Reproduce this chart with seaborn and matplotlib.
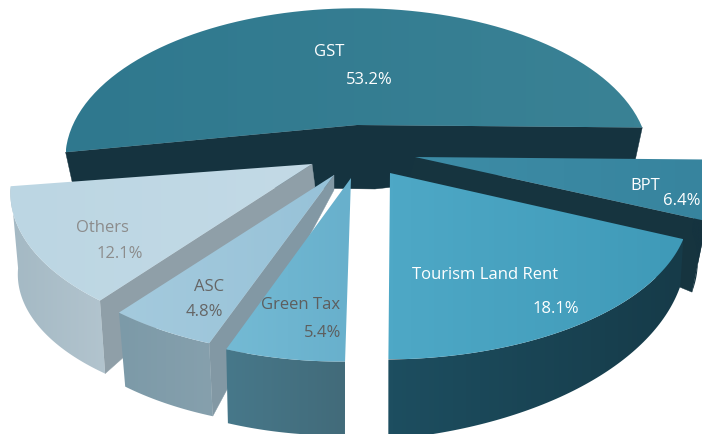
import numpy as np
import matplotlib.pyplot as plt
import seaborn as sns
from matplotlib.patches import Polygon

sns.set_style('white')
plt.rcParams['font.family'] = ['Open Sans', 'DejaVu Sans']

# data, counter-clockwise from the right corner of GST
names  = ['GST', 'Others', 'ASC', 'Green Tax', 'Tourism Land Rent', 'BPT']
shares = [53.2, 12.1, 4.8, 5.4, 18.1, 6.4]
pct_labels = ['53.2%', '12.1%', '4.8%', '5.4%', '18.1%', '6.4%']

START_ANGLE = -1
RX, RY, PERSP = 290, 143, 0.225

# layout per slice (pixels)
centers = [(357, 125), (308, 159), (327, 171), (340, 177), (383, 175), (415, 157)]
tips    = [(357, 125), (312, 164), (334, 175), (351, 178), (390, 173), (415, 157)]
tip_bottom = [(375, 189), (315, 187), (334, 190), (351, 190), (390, 190), (410, 176)]
radius  = [0.98, 1.0, 1.0, 0.966, 1.03, 1.0]
depth_a = [33, 82, 74, 74, 80, 71]     # side height at angle start
depth_b = [33, 73, 73, 74, 47, 71]     # side height at angle end
shrink  = [0.975, 0.975, 0.97, 0.985, 0.99, 0.95]
walls   = ['both', 'end', 'end', None, None, 'start']   # which radial walls show

top_a  = ['#2F788E', '#BCD6E3', '#A4CADD', '#74BAD4', '#4EA8C6', '#3D8CA6']
top_b  = ['#3A8295', '#C3DAE6', '#97C2D8', '#68B0CC', '#3F9AB8', '#37849E']
face_a = ['#15333F', '#A4B9C4', '#7C9AA8', '#47788A', '#1D4E60', '#15333F']
face_b = ['#15333F', '#B2C4CE', '#86A0AD', '#426B7A', '#163B49', '#15333F']
wall   = ['#15333F', '#8F9FA8', '#8298A4', '#47788A', '#163B49', '#16343F']

label_xy = [(329, 52), (102, 228), (209, 287), (301, 305), (485, 275), (645, 186)]
pct_xy   = [(369, 80), (120, 254), (204, 312), (323, 333), (556, 309), (682, 201)]
text_col = ['white', '#8C8C8C', '#666666', '#5E5E5E', 'white', 'white']

z = [1]


def next_z():
    z[0] += 1
    return z[0]


def project(center, angle, scale=1.0):
    t = np.radians(angle)
    w = 1 + PERSP * np.sin(t)
    return (center[0] + scale * RX * np.cos(t) / w,
            center[1] - RY * np.sin(t) / w)


def fill_gradient(ax, pts, c0, c1):
    # horizontal colour blend clipped to a polygon
    pts = np.asarray(pts)
    cmap = sns.blend_palette([c0, c1], n_colors=64, as_cmap=True)
    poly = Polygon(pts, closed=True, fc='none', ec='none', transform=ax.transData)
    ax.add_patch(poly)
    im = ax.imshow(np.linspace(0, 1, 64)[None, :], cmap=cmap, aspect='auto', zorder=next_z(),
                   extent=(pts[:, 0].min(), pts[:, 0].max(), pts[:, 1].max(), pts[:, 1].min()))
    im.set_clip_path(poly)


def draw_slice(ax, i, a0, a1):
    angles = np.linspace(a0, a1, 80)
    top = np.array([project(centers[i], a, radius[i]) for a in angles])
    hs = np.linspace(depth_a[i], depth_b[i], len(angles))
    low = np.array([project(centers[i], a, radius[i] * shrink[i]) for a in angles])
    low[:, 1] += hs

    # radial walls, then the curved face, then the top
    if walls[i] == 'both':
        pts = [tips[i], top[0], low[0], tip_bottom[i], low[-1], top[-1]]
    elif walls[i] == 'start':
        pts = [tips[i], top[0], low[0], tip_bottom[i]]
    elif walls[i] == 'end':
        pts = [tips[i], top[-1], low[-1], tip_bottom[i]]
    else:
        pts = None
    if pts is not None:
        ax.add_patch(Polygon(pts, closed=True, fc=wall[i], ec=wall[i], lw=0.3, zorder=next_z()))
    if i != 0:
        fill_gradient(ax, np.vstack([top, low[::-1]]), face_a[i], face_b[i])
    fill_gradient(ax, np.vstack([[tips[i]], top]), top_a[i], top_b[i])


fig = plt.figure(figsize=(7.02, 4.34), dpi=100)
ax = fig.add_axes([0, 0, 1, 1])

edges = START_ANGLE + np.concatenate([[0], np.cumsum(shares)]) * 3.6

# back to front
for i in [0, 5, 1, 2, 3, 4]:
    draw_slice(ax, i, edges[i], edges[i + 1])

for i, name in enumerate(names):
    ax.text(*label_xy[i], name, color=text_col[i], fontsize=12, ha='center', va='center', zorder=100)
    ax.text(*pct_xy[i], pct_labels[i], color=text_col[i], fontsize=12, ha='center', va='center', zorder=100)

ax.set_xlim(0, 702)
ax.set_ylim(434, 0)
ax.axis('off')
fig.savefig('out.png', dpi=100, facecolor='white')
plt.close()
